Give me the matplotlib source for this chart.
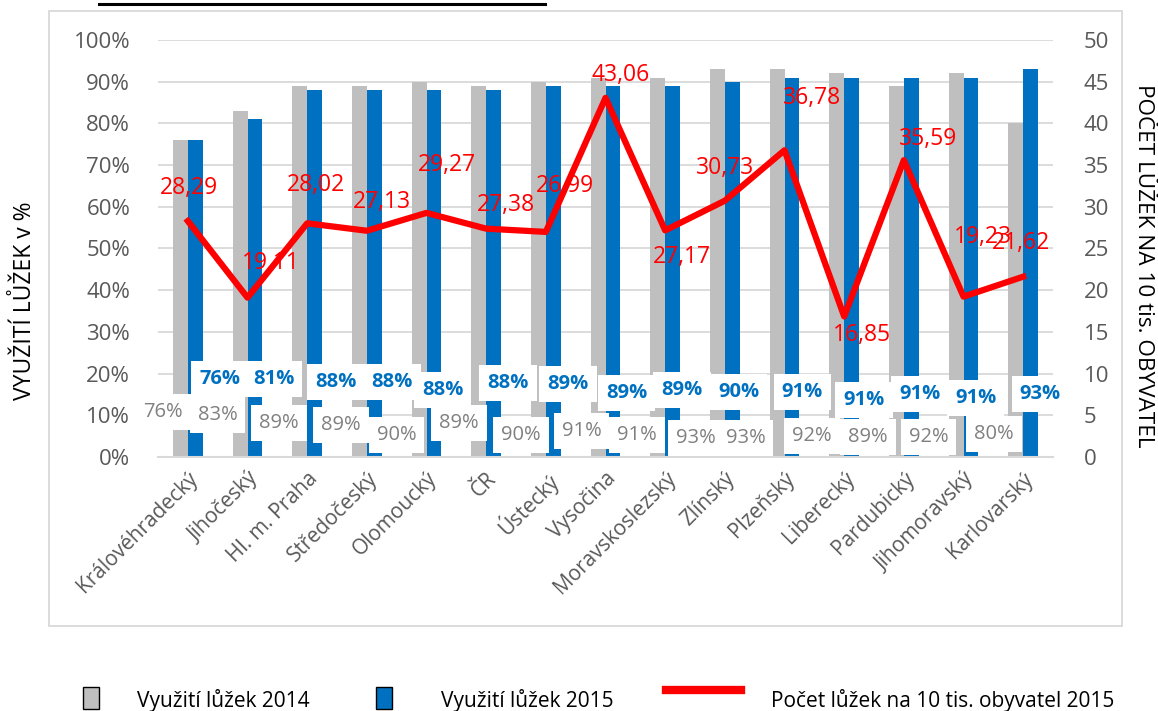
import numpy as np
import matplotlib
matplotlib.use("Agg")
import matplotlib.pyplot as plt
from matplotlib.patches import Rectangle
from matplotlib.lines import Line2D
from matplotlib.ticker import PercentFormatter, MultipleLocator

plt.rcParams['font.family'] = ['Open Sans', 'DejaVu Sans']

# data
regions = ["Královéhradecký", "Jihočeský", "Hl. m. Praha", "Středočeský", "Olomoucký",
           "ČR", "Ústecký", "Vysočina", "Moravskoslezský", "Zlínský", "Plzeňský",
           "Liberecký", "Pardubický", "Jihomoravský", "Karlovarský"]
use_2014 = [76, 83, 89, 89, 90, 89, 90, 91, 91, 93, 93, 92, 89, 92, 80]
use_2015 = [76, 81, 88, 88, 88, 88, 89, 89, 89, 90, 91, 91, 91, 91, 93]
beds_2015 = [28.29, 19.11, 28.02, 27.13, 29.27, 27.38, 26.99, 43.06, 27.17,
             30.73, 36.78, 16.85, 35.59, 19.23, 21.62]

# label offsets in pixels (hand placed in the original)
off_2014 = [(-25, 45), (-30, 42), (-28, 34), (-26, 32), (-30, 22), (-27, 34), (-25, 22),
            (-24, 26), (-28, 22), (-29, 19), (-39, 19), (-32, 21), (-36, 20), (-35, 20), (-29, 23)]
off_2015 = [(32, 78), (26, 78), (29, 75), (25, 75), (16, 67), (22, 74), (22, 73),
            (21, 64), (17, 67), (14, 65), (18, 65), (20, 57), (16, 63), (12, 59), (17, 63)]
off_beds = [(1, 33), (23, 35), (9, 38), (15, 29), (20, 48), (20, 24), (19, 46),
            (15, 23), (17, -27), (0, 33), (28, 52), (18, -19), (24, 21), (19, 60), (-2, 34)]

GRAY = '#BFBFBF'
BLUE = '#0070C0'
TXT = '#595959'
W, H = 1158, 711

fig = plt.figure(figsize=(W / 100, H / 100), dpi=100)
ax = fig.add_axes([158 / W, 1 - 457 / H, (1053 - 158) / W, (457 - 40) / H])
ax2 = ax.twinx()

x = np.arange(len(regions))
w = 0.25
ax.bar(x - w / 2, np.array(use_2014) / 100, w, color=GRAY, zorder=2)
ax.bar(x + w / 2, np.array(use_2015) / 100, w, color=BLUE, zorder=2)

ax.set_xlim(-0.5, len(regions) - 0.5)
ax.set_ylim(0, 1)
ax.yaxis.set_major_locator(MultipleLocator(0.1))
ax.yaxis.set_major_formatter(PercentFormatter(1.0, decimals=0))
ax.yaxis.grid(True, color='#D9D9D9', lw=1.3)
ax.set_axisbelow(True)
for s in ['top', 'left', 'right']:
    ax.spines[s].set_visible(False)
ax.spines['bottom'].set_color('#D9D9D9')
ax.spines['bottom'].set_linewidth(1.5)
ax.tick_params(axis='y', length=0, pad=20, labelsize=16, labelcolor=TXT)
ax.tick_params(axis='x', length=0, pad=8, labelsize=15, labelcolor=TXT)
ax.set_xticks(x)
ax.set_xticklabels(regions, rotation=45, ha='right', rotation_mode='anchor')

# bar value labels
for i, v in enumerate(use_2015):
    ax.annotate(f"{v}%", (x[i], 0), xytext=off_2015[i], textcoords='offset pixels',
                ha='center', va='center', fontsize=14.5, fontweight='bold', color=BLUE, zorder=4,
                bbox=dict(boxstyle='square,pad=0.4', fc='white', ec='none'))
for i, v in enumerate(use_2014):
    ax.annotate(f"{v}%", (x[i], 0), xytext=off_2014[i], textcoords='offset pixels',
                ha='center', va='center', fontsize=14.5, color='#808080', zorder=5,
                bbox=dict(boxstyle='square,pad=0.4', fc='white', ec='none'))

# beds line
ax2.plot(x, beds_2015, color='#FF0000', lw=4.5, zorder=3)
ax2.set_ylim(0, 50)
ax2.yaxis.set_major_locator(MultipleLocator(5))
for s in ax2.spines.values():
    s.set_visible(False)
ax2.tick_params(axis='y', length=0, pad=22, labelsize=16, labelcolor=TXT)
for i, v in enumerate(beds_2015):
    ax2.annotate(f"{v:.2f}".replace('.', ','), (x[i], v), xytext=off_beds[i],
                 textcoords='offset pixels', ha='center', va='center',
                 fontsize=16.5, color='#FF0000', zorder=6)

# axis titles
fig.text(25 / W, 1 - 301 / H, "VYUŽITÍ LŮŽEK v %", rotation=90, ha='center', va='center',
         fontsize=16.5, color='black')
fig.text(1144 / W, 1 - 266 / H, "POČET LŮŽEK NA 10 tis. OBYVATEL", rotation=270,
         ha='center', va='center', fontsize=16.2, color='black')

# chart frame and top line
fig.add_artist(Rectangle((49 / W, 1 - 626 / H), (1122 - 49) / W, (626 - 11) / H,
                         transform=fig.transFigure, fill=False, ec='#D9D9D9', lw=1.3))
fig.add_artist(Line2D([99 / W, 545 / W], [1 - 3.5 / H] * 2, transform=fig.transFigure,
                      color='black', lw=2.2))

# legend (drawn by hand)
fig.add_artist(Rectangle((83 / W, 1 - 709 / H), 16 / W, 22 / H, transform=fig.transFigure,
                         fc=GRAY, ec='black', lw=1))
fig.text(137 / W, 1 - 700 / H, "Využití lůžek 2014", ha='left', va='center', fontsize=15)
fig.add_artist(Rectangle((376 / W, 1 - 709 / H), 16 / W, 22 / H, transform=fig.transFigure,
                         fc=BLUE, ec='black', lw=1))
fig.text(441 / W, 1 - 700 / H, "Využití lůžek 2015", ha='left', va='center', fontsize=15)
fig.add_artist(Line2D([666 / W, 741 / W], [1 - 690 / H] * 2, transform=fig.transFigure,
                      color='#FF0000', lw=6))
fig.text(771 / W, 1 - 700 / H, "Počet lůžek na 10 tis. obyvatel 2015", ha='left', va='center',
         fontsize=15)

fig.savefig("out.png", dpi=100)
